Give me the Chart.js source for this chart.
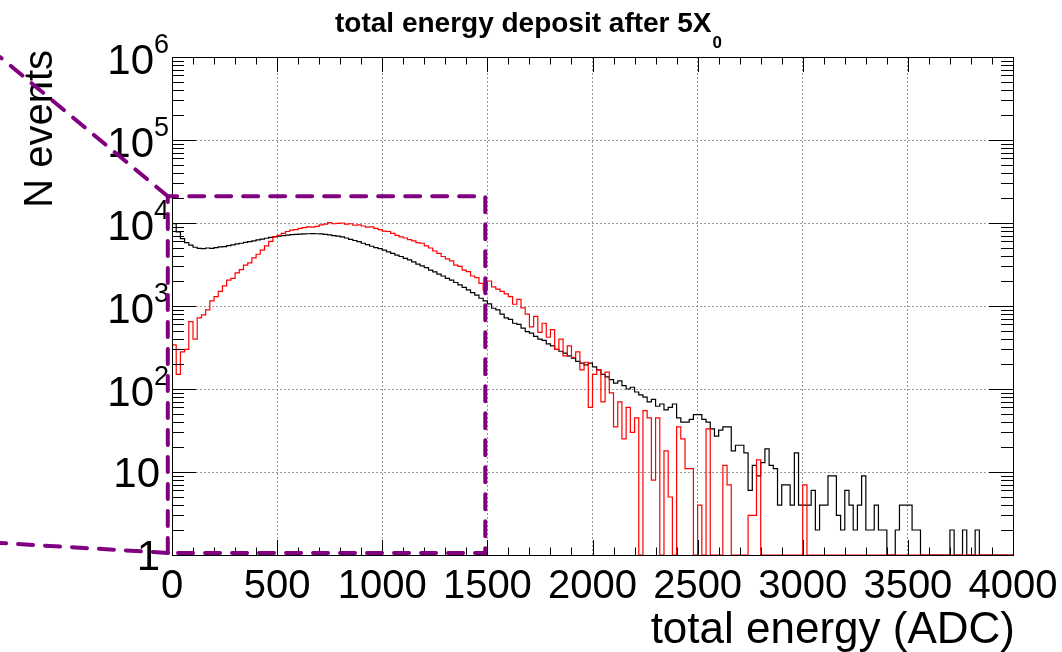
<!DOCTYPE html>
<html>
<head>
<meta charset="utf-8">
<script src="https://cdn.jsdelivr.net/npm/chart.js@4.4.1/dist/chart.umd.min.js"></script>
<style>
  html, body { margin: 0; padding: 0; background: #fff; }
  canvas { display: block; }
</style>
</head>
<body>
<canvas id="chart" width="1062" height="652"></canvas>
<script>
// histogram binning: 200 bins of 20 ADC, 0..4000
const binWidth = 20;

// black: total energy deposit (all events)
const blackCounts = [
  12000, 9800, 7800, 6500, 5800, 5400, 5100, 4950, 4900, 5000,
  4950, 5050, 5150, 5200, 5350, 5450, 5600, 5700, 5850, 5950,
  6100, 6250, 6400, 6550, 6700, 6850, 6950, 7050, 7150, 7250,
  7300, 7350, 7400, 7420, 7450, 7420, 7380, 7300, 7200, 7050,
  6950, 6800, 6600, 6350, 6150, 5950, 5700, 5500, 5250, 5050,
  4900, 4700, 4500, 4300, 4100, 3950, 3750, 3600, 3400, 3200,
  3050, 2900, 2700, 2580, 2420, 2300, 2150, 2050, 1920, 1800,
  1680, 1560, 1450, 1350, 1240, 1150, 1060, 940, 900, 800,
  720, 690, 620, 600, 540, 490, 470, 430, 400, 385,
  350, 330, 300, 285, 270, 250, 235, 215, 205, 195,
  205, 185, 170, 150, 140, 130, 118, 125, 110, 100,
  105, 92, 85, 80, 70, 75, 62, 66, 56, 60,
  66, 45, 40, 40, 43, 49, 49, 43, 40, 33,
  27, 32, 35, 35, 18, 21, 21, 17, 6, 12,
  9, 13, 19, 12, 11, 4, 7, 7, 4, 17,
  4, 4, 4, 6, 2, 4, 4, 9, 9, 3,
  2, 6, 4, 2, 4, 9, 2, 2, 4, 2,
  2, 0, 1, 2, 4, 4, 4, 2, 2, 0,
  1, 0, 0, 0, 0, 1, 2, 0, 0, 2,
  1, 0, 2, 0, 0, 1, 0, 0, 0, 0
];

// red: second sample
const redCounts = [
  85, 340, 150, 280, 300, 650, 400, 720, 780, 900,
  1150, 1300, 1500, 1750, 2050, 2150, 2500, 2750, 3100, 3300,
  3800, 4200, 4700, 5300, 6000, 6800, 7100, 7500, 7900, 8200,
  8300, 8600, 8800, 9000, 8900, 9100, 9500, 9700, 10100, 9800,
  9900, 10000, 9700, 9800, 9400, 9500, 9200, 8900, 9000, 8600,
  8300, 8000, 7900, 7500, 7100, 6800, 6600, 6300, 6100, 5800,
  5700, 5300, 5000, 4600, 4300, 3950, 3700, 3500, 3100, 3000,
  2700, 2600, 2300, 2200, 1870, 1550, 2000, 1700, 1600, 1500,
  1400, 1300, 1050, 1200, 950, 800, 560, 750, 480, 620,
  420, 520, 300, 400, 250, 330, 240, 280, 170, 210,
  60, 150, 170, 70, 160, 90, 35, 70, 25, 60,
  30, 45, 0, 55, 45, 8, 45, 0, 18, 5,
  0, 35, 25, 11, 11, 0, 4, 0, 33, 0,
  0, 0, 12, 7, 0, 0, 0, 0, 3, 3,
  14, 0, 0, 0, 0, 0, 0, 0, 0, 0,
  0, 7, 0, 0, 0, 0, 0, 0, 0, 0,
  0, 0, 0, 0, 0, 0, 0, 0, 0, 0,
  0, 0, 0, 0, 0, 0, 0, 0, 0, 0,
  0, 0, 0, 0, 0, 0, 0, 0, 0, 0,
  0, 0, 0, 0, 0, 0, 0, 0, 0, 0
];

const xTicks = [0, 500, 1000, 1500, 2000, 2500, 3000, 3500, 4000];
const yTicks = [1, 10, 100, 1000, 10000, 100000, 1000000];
const yTickExp = [0, 1, 2, 3, 4, 5, 6];

// zoom box drawn on top (data coords)
const zoomBox = { xMin: -20, xMax: 1490, yMin: 1.06, yMax: 21000 };

const FONT = '"Liberation Sans", Arial, Helvetica, sans-serif';

// ROOT-like histogram outline: start and end on the axis floor
function histPoints(counts) {
  const pts = [{ x: 0, y: 1 }];
  counts.forEach((c, i) => pts.push({ x: i * binWidth, y: Math.max(c, 1) }));
  const end = counts.length * binWidth;
  pts.push({ x: end, y: Math.max(counts[counts.length - 1], 1) });
  pts.push({ x: end, y: 1 });
  return pts;
}

const rootStyle = {
  id: 'rootStyle',
  afterDatasetsDraw(chart) {
    const { ctx, chartArea: a, scales: { x, y } } = chart;
    ctx.save();
    ctx.strokeStyle = '#000';
    ctx.lineWidth = 1;
    ctx.strokeRect(Math.round(a.left) + 0.5, Math.round(a.top) + 0.5,
      Math.round(a.right - a.left), Math.round(a.bottom - a.top));
    ctx.beginPath();
    for (let v = 0; v <= 4000; v += 100) {
      const px = Math.round(x.getPixelForValue(v)) + 0.5;
      const len = v % 500 === 0 ? 15 : 7.5;
      ctx.moveTo(px, a.bottom); ctx.lineTo(px, a.bottom - len);
      ctx.moveTo(px, a.top); ctx.lineTo(px, a.top + len);
    }
    for (let d = 0; d < 6; d++) {
      for (let k = 1; k <= 9; k++) {
        const py = Math.round(y.getPixelForValue(k * Math.pow(10, d))) + 0.5;
        const len = k === 1 ? 24 : 12;
        ctx.moveTo(a.left, py); ctx.lineTo(a.left + len, py);
        ctx.moveTo(a.right, py); ctx.lineTo(a.right - len, py);
      }
    }
    ctx.stroke();
    ctx.restore();
  },
  afterDraw(chart) {
    const { ctx, chartArea: a, scales: { x, y } } = chart;
    ctx.save();
    ctx.fillStyle = '#000';
    ctx.textBaseline = 'alphabetic';

    // x tick labels
    ctx.font = '40px ' + FONT;
    ctx.textAlign = 'center';
    xTicks.forEach(v => ctx.fillText(String(v), x.getPixelForValue(v), 598));

    // y tick labels
    yTicks.forEach((v, i) => {
      const py = y.getPixelForValue(v);
      const e = yTickExp[i];
      ctx.textAlign = 'right';
      ctx.font = '42px ' + FONT;
      if (e === 0) { ctx.fillText('1', 160, py + 15); return; }
      if (e === 1) { ctx.fillText('10', 160, py + 15); return; }
      ctx.font = '27px ' + FONT;
      const sw = ctx.measureText(String(e)).width;
      ctx.fillText(String(e), 169, py - 4);
      ctx.font = '42px ' + FONT;
      ctx.fillText('10', 169 - sw, py + 17);
    });

    // axis titles
    ctx.font = '44px ' + FONT;
    ctx.textAlign = 'right';
    ctx.fillText('total energy (ADC)', 1015, 643);
    ctx.font = '40px ' + FONT;
    ctx.save();
    ctx.translate(52, 50);
    ctx.rotate(-Math.PI / 2);
    ctx.fillText('N events', 0, 0);
    ctx.restore();

    // title with subscript
    ctx.textAlign = 'left';
    ctx.font = 'bold 28px ' + FONT;
    const t = 'total energy deposit after 5X';
    ctx.fillText(t, 335, 32);
    const tw = ctx.measureText(t).width;
    ctx.font = 'bold 17px ' + FONT;
    ctx.fillText('0', 335 + tw + 1, 48);

    // purple zoom box and connector lines
    const l = x.getPixelForValue(zoomBox.xMin), r = x.getPixelForValue(zoomBox.xMax);
    const tp = y.getPixelForValue(zoomBox.yMax), bt = y.getPixelForValue(zoomBox.yMin);
    ctx.strokeStyle = '#800080';
    ctx.lineWidth = 4;
    ctx.lineCap = 'round';
    ctx.setLineDash([15, 12]);
    ctx.beginPath();
    ctx.moveTo(l, bt); ctx.lineTo(l, tp); ctx.lineTo(r, tp); ctx.lineTo(r, bt); ctx.lineTo(l, bt);
    ctx.stroke();
    ctx.beginPath();
    ctx.moveTo(l, tp); ctx.lineTo(0, 57);
    ctx.stroke();
    ctx.beginPath();
    ctx.moveTo(l, bt); ctx.lineTo(0, 543);
    ctx.stroke();
    ctx.restore();
  }
};

const gridOpts = { color: '#9a9a9a', lineWidth: 1, drawTicks: false };

new Chart(document.getElementById('chart'), {
  type: 'line',
  data: {
    datasets: [
      {
        data: histPoints(redCounts),
        borderColor: '#ff0000',
        borderWidth: 1.2,
        stepped: 'after',
        pointRadius: 0,
        fill: false
      },
      {
        data: histPoints(blackCounts),
        borderColor: '#000000',
        borderWidth: 1.2,
        stepped: 'after',
        pointRadius: 0,
        fill: false
      }
    ]
  },
  options: {
    responsive: false,
    animation: false,
    devicePixelRatio: 1,
    layout: { padding: { left: 172, right: 49, top: 57, bottom: 97 } },
    plugins: { legend: { display: false }, tooltip: { enabled: false } },
    scales: {
      x: {
        type: 'linear', min: 0, max: 4000,
        ticks: { display: false, stepSize: 500 },
        grid: gridOpts,
        border: { display: false, dash: [2, 2] }
      },
      y: {
        type: 'logarithmic', min: 1, max: 1e6,
        afterBuildTicks: s => { s.ticks = yTicks.map(v => ({ value: v })); },
        ticks: { display: false },
        grid: gridOpts,
        border: { display: false, dash: [2, 2] }
      }
    }
  },
  plugins: [rootStyle]
});
</script>
</body>
</html>
